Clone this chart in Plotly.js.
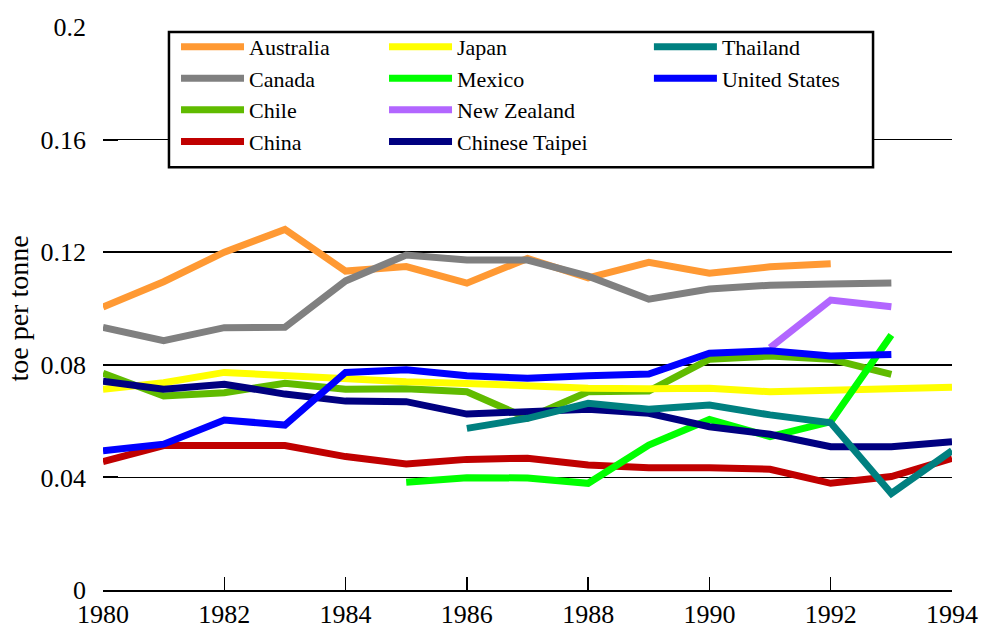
<!DOCTYPE html>
<html>
<head>
<meta charset="utf-8">
<script src="https://cdn.plot.ly/plotly-3.0.1.min.js"></script>
<style>
  html, body { margin: 0; padding: 0; background: #ffffff; }
  #chart { width: 982px; height: 630px; }
</style>
</head>
<body>
<div id="chart"></div>
<script>
const years = [1980, 1981, 1982, 1983, 1984, 1985, 1986, 1987, 1988, 1989, 1990, 1991, 1992, 1993, 1994];

const australia     = [0.1005, 0.1095, 0.1200, 0.1281, 0.1133, 0.1149, 0.1090, 0.1178, 0.1109, 0.1164, 0.1125, 0.1148, 0.1159, null, null];
const canada        = [0.0933, 0.0886, 0.0932, 0.0933, 0.1098, 0.1190, 0.1172, 0.1172, 0.1115, 0.1033, 0.1069, 0.1083, 0.1087, 0.1091, null];
const chile         = [0.0770, 0.0689, 0.0701, 0.0734, 0.0713, 0.0715, 0.0704, 0.0610, 0.0704, 0.0707, 0.0820, 0.0831, 0.0820, 0.0766, null];
const china         = [0.0456, 0.0513, 0.0513, 0.0513, 0.0474, 0.0448, 0.0464, 0.0468, 0.0444, 0.0434, 0.0434, 0.0429, 0.0379, 0.0403, 0.0468];
const japan         = [0.0713, 0.0736, 0.0773, 0.0761, 0.0750, 0.0740, 0.0734, 0.0723, 0.0717, 0.0715, 0.0717, 0.0704, 0.0708, 0.0717, 0.0720];
const mexico        = [null, null, null, null, null, 0.0383, 0.0399, 0.0398, 0.0379, 0.0515, 0.0606, 0.0545, 0.0598, 0.0906, null];
const newZealand    = [null, null, null, null, null, null, null, null, null, null, null, 0.0861, 0.1030, 0.1006, null];
const chineseTaipei = [0.0742, 0.0713, 0.0731, 0.0696, 0.0671, 0.0669, 0.0625, 0.0633, 0.0642, 0.0628, 0.0580, 0.0553, 0.0509, 0.0509, 0.0527];
const thailand      = [null, null, null, null, null, null, 0.0574, 0.0610, 0.0663, 0.0642, 0.0657, 0.0622, 0.0594, 0.0343, 0.0495];
const unitedStates  = [0.0495, 0.0518, 0.0604, 0.0586, 0.0773, 0.0782, 0.0761, 0.0752, 0.0761, 0.0767, 0.0841, 0.0850, 0.0831, 0.0837, null];

const seriesNames = ["Australia", "Canada", "Chile", "China", "Japan", "Mexico", "New Zealand", "Chinese Taipei", "Thailand", "United States"];
const seriesValues = [australia, canada, chile, china, japan, mexico, newZealand, chineseTaipei, thailand, unitedStates];
const seriesColors = ["#FF9933", "#808080", "#60BB00", "#C00000", "#FFFF00", "#00FF00", "#B266FF", "#000080", "#008080", "#0000FF"];
const seriesLegend = ["legend", "legend", "legend", "legend", "legend2", "legend2", "legend2", "legend2", "legend3", "legend3"];

const yTickVals = [0, 0.04, 0.08, 0.12, 0.16, 0.2];
const yTickText = ["0", "0.04", "0.08", "0.12", "0.16", "0.2"];
const xTickVals = [1980, 1982, 1984, 1986, 1988, 1990, 1992, 1994];
const xTickText = ["1980", "1982", "1984", "1986", "1988", "1990", "1992", "1994"];

const FONT = "Liberation Serif";

const traces = seriesNames.map((name, i) => ({
  type: "scatter",
  mode: "lines",
  name: name,
  x: years,
  y: seriesValues[i],
  line: { color: seriesColors[i], width: 7 },
  legend: seriesLegend[i],
  hoverinfo: "skip"
}));

const legendBase = {
  orientation: "v",
  xanchor: "left",
  yanchor: "top",
  y: 1.002,
  bgcolor: "rgba(0,0,0,0)",
  borderwidth: 0,
  font: { family: FONT, size: 22, color: "#000" },
  itemwidth: 63,
  tracegroupgap: 0
};

const layout = {
  width: 982,
  height: 630,
  margin: { l: 103, r: 30, t: 27, b: 40, pad: 0 },
  paper_bgcolor: "#ffffff",
  plot_bgcolor: "#ffffff",
  font: { family: FONT, size: 26, color: "#000" },
  showlegend: true,
  legend:  Object.assign({}, legendBase, { x: 0.086 }),
  legend2: Object.assign({}, legendBase, { x: 0.331 }),
  legend3: Object.assign({}, legendBase, { x: 0.643 }),
  xaxis: {
    range: [1980, 1994],
    tickmode: "array",
    tickvals: xTickVals,
    ticktext: xTickText,
    ticks: "inside",
    ticklen: 13,
    tickwidth: 1.5,
    tickcolor: "#000",
    showgrid: false,
    zeroline: false,
    showline: true,
    linecolor: "#000",
    linewidth: 2,
    tickfont: { family: FONT, size: 26, color: "#000" },
    fixedrange: true
  },
  yaxis: {
    range: [0, 0.2],
    tickmode: "array",
    tickvals: yTickVals,
    ticktext: yTickText,
    ticks: "inside",
    ticklen: 15,
    tickwidth: 2,
    tickcolor: "#000",
    showgrid: true,
    gridcolor: "#000",
    gridwidth: 1.5,
    zeroline: false,
    showline: false,
    ticklabelstandoff: 16,
    tickfont: { family: FONT, size: 26, color: "#000" },
    title: { text: "toe per tonne", font: { family: FONT, size: 28, color: "#000" }, standoff: 3 },
    fixedrange: true
  },
  shapes: [{
    type: "rect",
    xref: "paper", yref: "paper",
    x0: 0.0777, x1: 0.907,
    y0: 0.751, y1: 0.991,
    line: { color: "#000", width: 2.5 },
    fillcolor: "#ffffff",
    layer: "above"
  }]
};

Plotly.newPlot("chart", traces, layout, { staticPlot: true, displayModeBar: false });
</script>
</body>
</html>
